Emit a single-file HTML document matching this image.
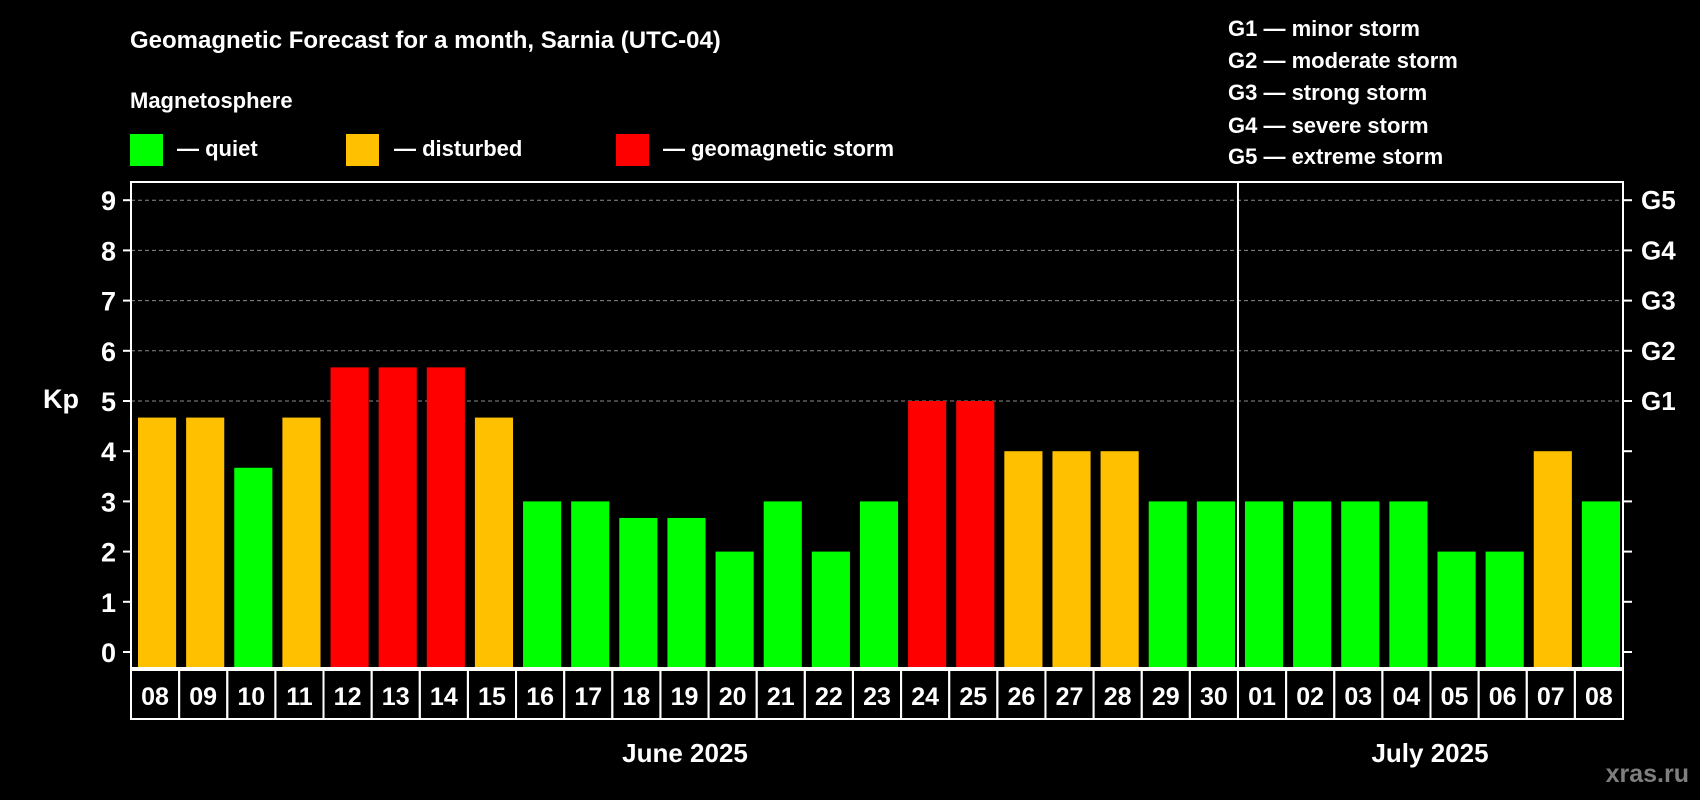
<!DOCTYPE html>
<html><head><meta charset="utf-8"><style>
html,body{margin:0;padding:0;background:#000;}
svg{display:block;font-family:"Liberation Sans",Arial,sans-serif;font-weight:bold;}
</style></head><body>
<svg id="chart" width="1700" height="800" viewBox="0 0 1700 800">
<rect width="1700" height="800" fill="#000"/>
<text x="130" y="48" fill="#fff" font-size="24">Geomagnetic Forecast for a month, Sarnia (UTC-04)</text>
<text x="130" y="108" fill="#fff" font-size="22">Magnetosphere</text>
<g><rect x="130" y="134" width="33" height="32" fill="#00ff00"/><text x="177" y="156" fill="#fff" font-size="22">— quiet</text></g>
<g><rect x="346" y="134" width="33" height="32" fill="#ffc000"/><text x="394" y="156" fill="#fff" font-size="22">— disturbed</text></g>
<g><rect x="616" y="134" width="33" height="32" fill="#ff0000"/><text x="663" y="156" fill="#fff" font-size="22">— geomagnetic storm</text></g>
<g fill="#fff" font-size="22">
<text x="1228" y="36">G1 — minor storm</text>
<text x="1228" y="68">G2 — moderate storm</text>
<text x="1228" y="100">G3 — strong storm</text>
<text x="1228" y="133">G4 — severe storm</text>
<text x="1228" y="164">G5 — extreme storm</text>
</g>
<text x="43" y="408" fill="#fff" font-size="27">Kp</text>
<text x="685" y="762" fill="#fff" font-size="26" text-anchor="middle">June 2025</text>
<text x="1430" y="762" fill="#fff" font-size="26" text-anchor="middle">July 2025</text>
<text x="1689" y="782" fill="#7f7f7f" font-size="25" text-anchor="end">xras.ru</text>
<g id="plot"></g>
</svg>
<script>
const categories=["08","09","10","11","12","13","14","15","16","17","18","19","20","21","22","23","24","25","26","27","28","29","30","01","02","03","04","05","06","07","08"];
const kpValues=[4.67,4.67,3.67,4.67,5.67,5.67,5.67,4.67,3,3,2.67,2.67,2,3,2,3,5,5,4,4,4,3,3,3,3,3,3,2,2,4,3];
const yTicks=[0,1,2,3,4,5,6,7,8,9];
const gLabels=["G1","G2","G3","G4","G5"];
const gLevels=[5,6,7,8,9];
const monthSplit=23;

const NS="http://www.w3.org/2000/svg";
const g=document.getElementById('plot');
const X0=131,X1=1623,TOP=182,BOT=668;
const band=(X1-X0)/categories.length;
function xs(i){return X0+i*band;}
function ys(v){return 652-v*50.2;}
function mk(t,a,parent){const e=document.createElementNS(NS,t);for(const k in a)e.setAttribute(k,a[k]);(parent||g).appendChild(e);return e;}
function color(v){return v>=5?'#ff0000':(v>=4?'#ffc000':'#00ff00');}

gLevels.forEach((lv,i)=>{
  const l=mk('line',{x1:X0,x2:X1,y1:ys(lv),y2:ys(lv),stroke:'#8a8a8a','stroke-width':1,'stroke-dasharray':'4,3'});
  
  
  const t=mk('text',{x:1641,y:ys(lv)+9,fill:'#fff','font-size':26});
  t.textContent=gLabels[i];
  
  
});
kpValues.forEach((v,i)=>{
  const r=mk('rect',{x:xs(i)+7,y:ys(v),width:band-10,height:BOT-ys(v)-1,fill:color(v)});
  
  
  const b=mk('rect',{x:xs(i),y:BOT+2,width:band,height:49,fill:'none',stroke:'#fff','stroke-width':2});
  
  
  const t=mk('text',{x:xs(i)+band/2,y:BOT+37,fill:'#fff','font-size':25,'text-anchor':'middle'});
  t.textContent=categories[i];
  
  
});
yTicks.forEach(v=>{
  const t=mk('text',{x:116,y:ys(v)+10,fill:'#fff','font-size':27,'text-anchor':'end'});
  t.textContent=v;
  
  
  mk('line',{x1:123,x2:X0,y1:ys(v),y2:ys(v),stroke:'#fff','stroke-width':2});
  mk('line',{x1:X1,x2:X1+9,y1:ys(v),y2:ys(v),stroke:'#fff','stroke-width':2});
});
const f=mk('rect',{x:X0,y:TOP,width:X1-X0,height:BOT-TOP,fill:'none',stroke:'#fff','stroke-width':2});


const d=mk('line',{x1:xs(monthSplit),x2:xs(monthSplit),y1:TOP,y2:BOT,stroke:'#fff','stroke-width':2});


</script>
</body></html>
